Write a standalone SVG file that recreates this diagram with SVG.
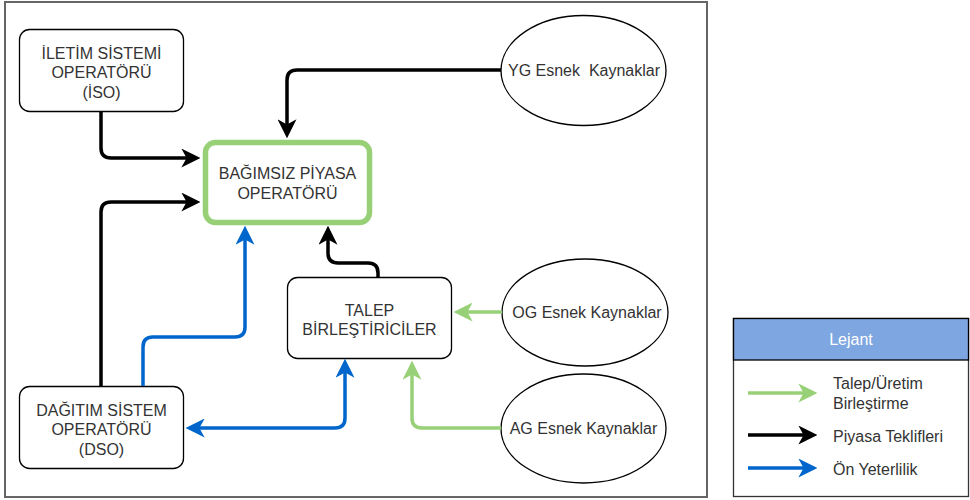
<svg xmlns="http://www.w3.org/2000/svg" width="970" height="500" viewBox="0 0 970 500">
<style>
text{font-family:"Liberation Sans",Arial,sans-serif;font-size:16px;fill:#333;text-anchor:middle}
.box{fill:#fff;stroke:#000;stroke-width:1.3}
.c{fill:none;stroke-width:3.5}
.k{stroke:#000}.g{stroke:#97D077}.b{stroke:#0066CC}
.lt{text-anchor:start}
</style>
<defs>
<marker id="ak" markerUnits="userSpaceOnUse" markerWidth="19" markerHeight="19" viewBox="0 0 18 18" refX="12" refY="9" orient="auto"><path d="M0,0 L18,9 L0,18 L5,9 z" fill="#000"/></marker>
<marker id="ag" markerUnits="userSpaceOnUse" markerWidth="19" markerHeight="19" viewBox="0 0 18 18" refX="12" refY="9" orient="auto"><path d="M0,0 L18,9 L0,18 L5,9 z" fill="#97D077"/></marker>
<marker id="ab" markerUnits="userSpaceOnUse" markerWidth="19" markerHeight="19" viewBox="0 0 18 18" refX="12" refY="9" orient="auto-start-reverse"><path d="M0,0 L18,9 L0,18 L5,9 z" fill="#0066CC"/></marker>
</defs>
<rect x="5" y="2" width="702" height="495" fill="#fff" stroke="#666" stroke-width="2"/>
<g id="iso"><rect class="box" x="19.5" y="29.5" width="164" height="82" rx="10"/><text x="101.5" y="59">İLETİM SİSTEMİ</text><text x="101.5" y="78">OPERATÖRÜ</text><text x="101.5" y="98">(İSO)</text></g>
<g id="bpo"><rect x="205.5" y="142.5" width="164" height="80" rx="10" fill="#fff" stroke="#97D077" stroke-width="5.5"/><text x="287.5" y="179">BAĞIMSIZ PİYASA</text><text x="287.5" y="199">OPERATÖRÜ</text></g>
<g id="yg"><ellipse cx="583.5" cy="70.5" rx="82.5" ry="55" fill="#fff" stroke="#000" stroke-width="1.3"/><text x="584" y="76">YG Esnek&#160; Kaynaklar</text></g>
<g id="talep"><rect class="box" x="287.5" y="277.5" width="164" height="81" rx="10"/><text x="369.5" y="316">TALEP</text><text x="369.5" y="335">BİRLEŞTİRİCİLER</text></g>
<g id="og"><ellipse cx="585" cy="312.5" rx="83" ry="53.5" fill="#fff" stroke="#000" stroke-width="1.3"/><text x="587" y="318">OG Esnek Kaynaklar</text></g>
<g id="ag"><ellipse cx="583.5" cy="428.5" rx="82.5" ry="54.5" fill="#fff" stroke="#000" stroke-width="1.3"/><text x="583.5" y="434">AG Esnek Kaynaklar</text></g>
<g id="dso"><rect class="box" x="19.5" y="386.5" width="164" height="82" rx="10"/><text x="101.5" y="416">DAĞITIM SİSTEM</text><text x="101.5" y="435">OPERATÖRÜ</text><text x="101.5" y="455">(DSO)</text></g>
<g id="connectors">
<path class="c k" d="M501,70 H297 Q287,70 287,80 V132" marker-end="url(#ak)"/>
<path class="c k" d="M101,112 V148 Q101,158 111,158 H194" marker-end="url(#ak)"/>
<path class="c k" d="M101,386 V212 Q101,202 111,202 H194" marker-end="url(#ak)"/>
<path class="c b" d="M143,386 V347 Q143,337 153,337 H235 Q245,337 245,327 V232" marker-end="url(#ab)"/>
<path class="c k" d="M378,277 V273 Q378,263 368,263 H338 Q328,263 328,253 V232" marker-end="url(#ak)"/>
<path class="c b" d="M192,428 H335 Q345,428 345,418 V365" marker-start="url(#ab)" marker-end="url(#ab)"/>
<path class="c g" d="M502,312 H460" marker-end="url(#ag)"/>
<path class="c g" d="M501,428 H422 Q412,428 412,418 V367" marker-end="url(#ag)"/>
</g>
<g id="legend">
<rect x="733.5" y="318.5" width="235" height="178" fill="#fff" stroke="#333" stroke-width="1.3"/>
<rect x="733.5" y="318.5" width="235" height="41.5" fill="#7EA6E0" stroke="#000" stroke-width="1.3"/>
<text x="851" y="345" style="fill:#fff">Lejant</text>
<path class="c g" d="M748,393 H811" marker-end="url(#ag)"/>
<path class="c k" d="M748,435 H811" marker-end="url(#ak)"/>
<path class="c b" d="M748,468 H811" marker-end="url(#ab)"/>
<text class="lt" x="833" y="389">Talep/Üretim</text>
<text class="lt" x="833" y="409">Birleştirme</text>
<text class="lt" x="833" y="442">Piyasa Teklifleri</text>
<text class="lt" x="833" y="475">Ön Yeterlilik</text>
</g>
</svg>
